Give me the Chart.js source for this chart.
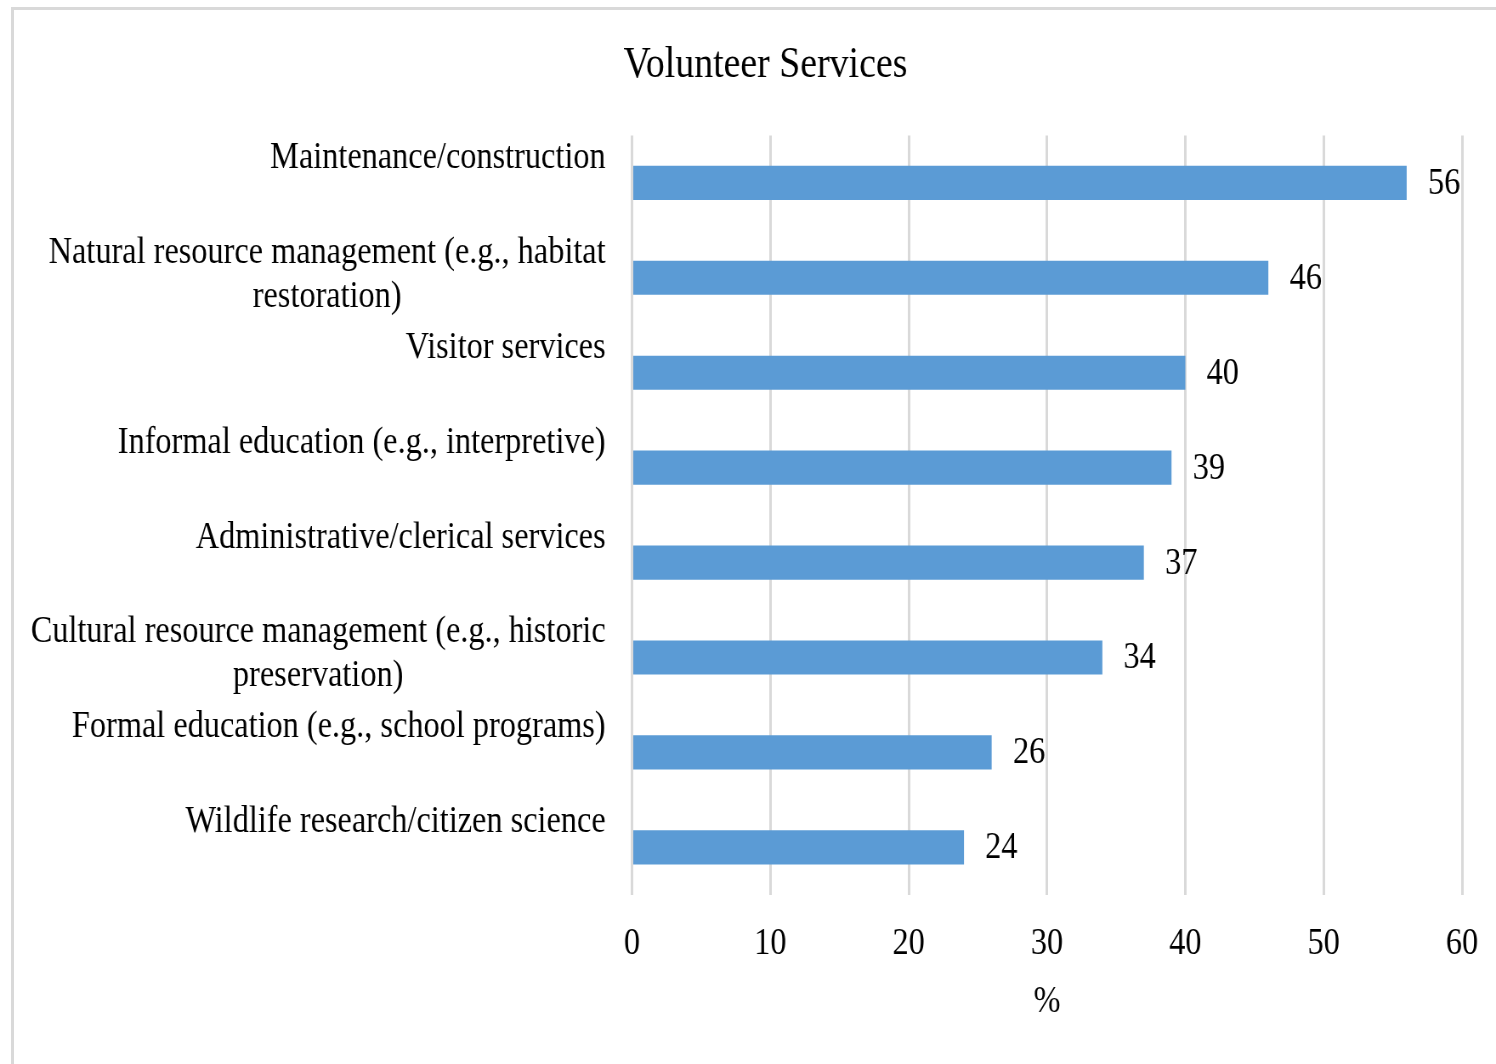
<!DOCTYPE html>
<html>
<head>
<meta charset="utf-8">
<title>Volunteer Services</title>
<script src="https://cdn.jsdelivr.net/npm/chart.js@4/dist/chart.umd.min.js"></script>
<style>
  html, body { margin: 0; padding: 0; background: #fff; overflow: hidden; }
  #frame {
    position: absolute; left: 11px; top: 7px; width: 1600px; height: 1200px;
    border-top: 3px solid #d9d9d9; border-left: 3px solid #d9d9d9;
  }
  /* the chart is laid out wider and squeezed back, which gives the narrow serif look */
  #wrap {
    position: absolute; left: 0; top: 0; width: 1765px; height: 1064px;
    transform: scaleX(0.85); transform-origin: 0 0;
  }
</style>
</head>
<body>
<div id="frame"></div>
<div id="wrap"><canvas id="myChart"></canvas></div>
<script>
var categories = [
    ['Maintenance/construction', ''],
    ['Natural resource management (e.g., habitat', 'restoration)'],
    ['Visitor services', ''],
    ['Informal education (e.g., interpretive)', ''],
    ['Administrative/clerical services', ''],
    ['Cultural resource management (e.g., historic', 'preservation)'],
    ['Formal education (e.g., school programs)', ''],
    ['Wildlife research/citizen science', '']
];
var percents = [56, 46, 40, 39, 37, 34, 26, 24];
var xTicks = [0, 10, 20, 30, 40, 50, 60];

var serif = 'Liberation Serif, Times New Roman, serif';

// category names: block right-aligned against the axis, lines centred inside the block
var categoryLabels = {
    id: 'categoryLabels',
    afterDraw: function(chart) {
        var ctx = chart.ctx;
        var yScale = chart.scales.y;
        var right = chart.chartArea.left - 31;
        ctx.save();
        ctx.font = '38px ' + serif;
        ctx.fillStyle = '#000';
        ctx.textAlign = 'center';
        ctx.textBaseline = 'middle';
        chart.data.labels.forEach(function(lines, i) {
            var y = yScale.getPixelForTick(i);
            var widest = 0;
            lines.forEach(function(t) { widest = Math.max(widest, ctx.measureText(t).width); });
            var cx = right - widest / 2;
            lines.forEach(function(t, k) {
                ctx.fillText(t, cx, y + (k - (lines.length - 1) / 2) * 44 - 3);
            });
        });
        ctx.restore();
    }
};

// writes each bar's value just past its end
var valueLabels = {
    id: 'valueLabels',
    afterDatasetsDraw: function(chart) {
        var ctx = chart.ctx;
        var meta = chart.getDatasetMeta(0);
        ctx.save();
        ctx.font = '38px ' + serif;
        ctx.fillStyle = '#000';
        ctx.textAlign = 'left';
        ctx.textBaseline = 'middle';
        meta.data.forEach(function(bar, i) {
            ctx.fillText(String(percents[i]), bar.x + 25, bar.y + 1);
        });
        ctx.restore();
    }
};

document.addEventListener("DOMContentLoaded", function() {
    var ctx = document.getElementById('myChart').getContext('2d');
    var myChart = new Chart(ctx, {
        type: 'bar',
        data: {
            labels: categories,
            datasets: [{
                label: '%',
                data: percents,
                backgroundColor: '#5b9bd5',
                borderWidth: 0,
                barPercentage: 0.36,
                categoryPercentage: 1
            }]
        },
        plugins: [categoryLabels, valueLabels],
        options: {
            indexAxis: 'y',
            responsive: true,
            maintainAspectRatio: false,
            animation: false,
            layout: {
                padding: { left: 66, right: 30, top: 0, bottom: 39 }
            },
            plugins: {
                legend: { display: false },
                tooltip: { enabled: false },
                title: {
                    display: true,
                    text: 'Volunteer Services',
                    color: '#000',
                    font: { family: serif, size: 44.5, weight: 'normal', lineHeight: 1.2 },
                    padding: { top: 39, bottom: 43 }
                }
            },
            scales: {
                x: {
                    min: 0,
                    max: 60,
                    afterBuildTicks: function(axis) {
                        axis.ticks = xTicks.map(function(v) { return { value: v }; });
                    },
                    grid: {
                        color: '#d9d9d9',
                        lineWidth: 3,
                        drawTicks: false
                    },
                    border: { display: false },
                    ticks: {
                        color: '#000',
                        padding: 26,
                        autoSkip: false,
                        maxRotation: 0,
                        font: { family: serif, size: 38, lineHeight: 1.2 }
                    },
                    title: {
                        display: true,
                        text: '%',
                        color: '#000',
                        font: { family: serif, size: 38, lineHeight: 1.2 },
                        padding: { top: -13, bottom: 0 }
                    }
                },
                y: {
                    afterFit: function(axis) { axis.width = 677.5; },
                    grid: { display: false, drawTicks: false },
                    border: { display: false },
                    ticks: { display: false }
                }
            }
        }
    });
});
</script>
</body>
</html>
